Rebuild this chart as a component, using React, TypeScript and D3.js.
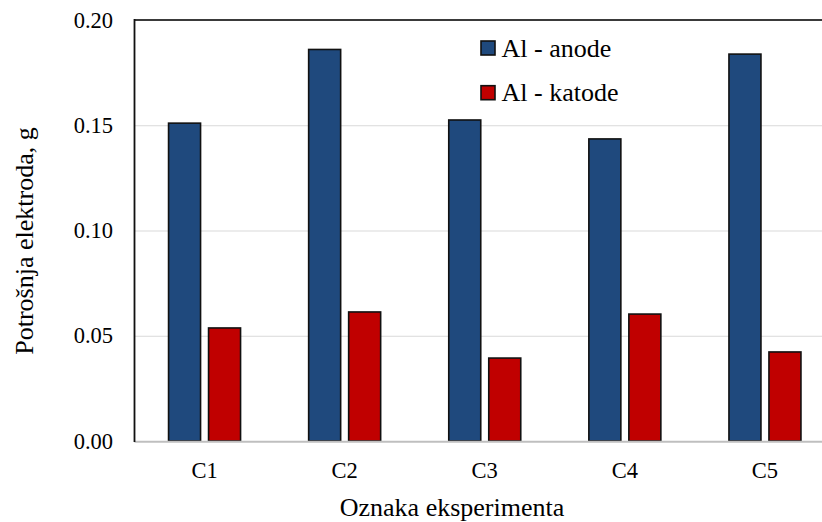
import React, { useRef, useEffect } from 'react';
import * as d3 from 'd3';

// Data
const categories = ['C1', 'C2', 'C3', 'C4', 'C5'];
const seriesNames = ['Al - anode', 'Al - katode'];
const anodeValues = [0.151, 0.186, 0.1525, 0.1435, 0.1838];
const katodeValues = [0.0537, 0.0613, 0.0394, 0.0603, 0.0423];
const seriesColors = ['#1F497D', '#C00000'];
const yTicks = [0, 0.05, 0.1, 0.15, 0.2];

const FONT = 'Liberation Serif';

const App = () => {
    const chartRef = useRef(null);

    useEffect(() => {
        const width = 822;
        const height = 522;
        const margin = { top: 20, right: -13, bottom: 81, left: 134.5 };
        const innerW = width - margin.left - margin.right;
        const innerH = height - margin.top - margin.bottom;

        const root = d3.select(chartRef.current);
        root.selectAll('*').remove();
        root.attr('width', width).attr('height', height);

        const svg = root.append('g')
            .attr('transform', `translate(${margin.left},${margin.top})`);

        // Scales
        const xScale = d3.scaleBand().domain(categories).range([0, innerW]).paddingInner(0).paddingOuter(0);
        const step = xScale.bandwidth();
        const xInner = d3.scaleBand().domain(seriesNames)
            .range([step / 2 - 36, step / 2 + 36]).paddingInner(0.2).paddingOuter(0);
        const yScale = d3.scaleLinear().domain([0, 0.2]).range([innerH, 0]);

        // Gridlines
        svg.selectAll('.grid')
            .data(yTicks.filter(t => t > 0 && t < 0.2))
            .enter().append('line')
            .attr('x1', 0)
            .attr('x2', width - margin.left)
            .attr('y1', d => yScale(d) + 0.5)
            .attr('y2', d => yScale(d) + 0.5)
            .attr('stroke', '#d9d9d9')
            .attr('stroke-width', 1.2);

        // Top border
        svg.append('line')
            .attr('x1', 0).attr('x2', width - margin.left)
            .attr('y1', yScale(0.2)).attr('y2', yScale(0.2))
            .attr('stroke', '#3a3a3a').attr('stroke-width', 1.8);

        // Bars
        const series = [anodeValues, katodeValues];
        series.forEach((vals, si) => {
            svg.selectAll(`.bar${si}`)
                .data(categories)
                .enter().append('rect')
                .attr('x', (d) => xScale(d) + xInner(seriesNames[si]))
                .attr('y', (d, i) => yScale(vals[i]))
                .attr('width', xInner.bandwidth())
                .attr('height', (d, i) => innerH - yScale(vals[i]))
                .attr('fill', seriesColors[si])
                .attr('stroke', '#111')
                .attr('stroke-width', 1.6);
        });

        // X axis line
        svg.append('line')
            .attr('x1', 0).attr('x2', width - margin.left)
            .attr('y1', innerH + 0.8).attr('y2', innerH + 0.8)
            .attr('stroke', '#bfbfbf').attr('stroke-width', 2);

        // Y axis line
        svg.append('line')
            .attr('x1', 0).attr('x2', 0)
            .attr('y1', -1).attr('y2', innerH + 1)
            .attr('stroke', '#111').attr('stroke-width', 1.8);

        // Y tick labels
        svg.selectAll('.ytick')
            .data(yTicks)
            .enter().append('text')
            .attr('x', -21.5)
            .attr('y', d => yScale(d) + 7.5)
            .attr('text-anchor', 'end')
            .attr('font-family', FONT)
            .attr('font-size', 22.5)
            .attr('fill', '#000')
            .text(d => d3.format('.2f')(d));

        // X tick labels
        svg.selectAll('.xtick')
            .data(categories)
            .enter().append('text')
            .attr('x', d => xScale(d) + step / 2)
            .attr('y', 477.5 - margin.top)
            .attr('text-anchor', 'middle')
            .attr('font-family', FONT)
            .attr('font-size', 22.5)
            .attr('fill', '#000')
            .text(d => d);

        // Axis titles
        root.append('text')
            .attr('x', 452)
            .attr('y', 516)
            .attr('text-anchor', 'middle')
            .attr('font-family', FONT)
            .attr('font-size', 26)
            .attr('fill', '#000')
            .text('Oznaka eksperimenta');

        root.append('text')
            .attr('transform', 'translate(33,241) rotate(-90)')
            .attr('text-anchor', 'middle')
            .attr('font-family', FONT)
            .attr('font-size', 26)
            .attr('fill', '#000')
            .text('Potrošnja elektroda, g');

        // Legend
        const legend = root.append('g').attr('transform', 'translate(481,41)');
        seriesNames.forEach((name, i) => {
            legend.append('rect')
                .attr('x', 0)
                .attr('y', i * 44.7)
                .attr('width', 14)
                .attr('height', 14)
                .attr('fill', seriesColors[i])
                .attr('stroke', '#111')
                .attr('stroke-width', 1.6);

            legend.append('text')
                .attr('x', 20.5)
                .attr('y', i * 44.7 + 15.5)
                .attr('font-family', FONT)
                .attr('font-size', 26)
                .attr('fill', '#000')
                .text(name);
        });
    }, []);

    return (
        <svg
            ref={chartRef}
            style={{ position: 'absolute', left: 0, top: 0, background: '#fff', fontFamily: FONT }}
        />
    );
};

export default App;
